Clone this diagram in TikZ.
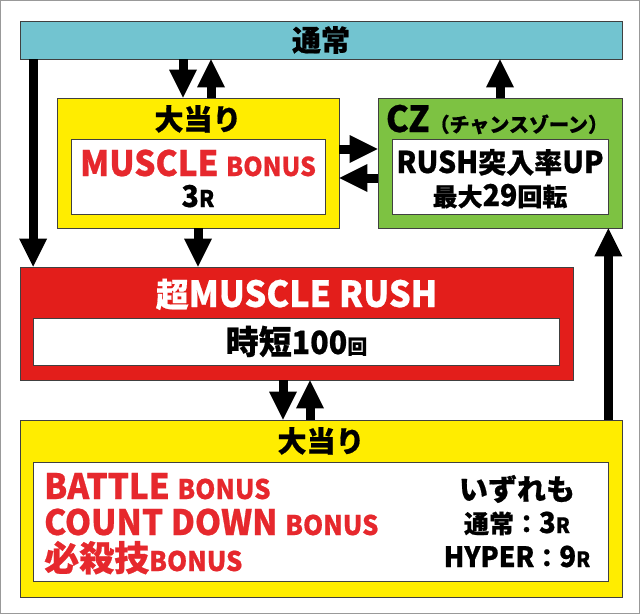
\documentclass[tikz,border=0pt]{standalone}
\usepackage{fontspec}
\setmainfont{Noto Sans CJK JP}
\newfontfamily\jp{Noto Sans CJK JP}[FakeBold=0.6]
\newfontfamily\lat{Noto Sans CJK JP}[FakeStretch=0.95, FakeBold=0.6]
\usetikzlibrary{arrows.meta}
\definecolor{tsujoblue}{RGB}{114,196,208}
\definecolor{hityellow}{RGB}{255,237,0}
\definecolor{czgreen}{RGB}{125,194,66}
\definecolor{rushred}{RGB}{227,30,27}
\definecolor{bonusred}{RGB}{230,40,45}
\newcommand\jpx[2]{{\jp\bfseries\fontsize{#1}{#1}\selectfont #2}}
\newcommand\ltx[2]{{\lat\bfseries\fontsize{#1}{#1}\selectfont #2}}

\begin{document}
\begin{tikzpicture}[x=1pt,y=-1pt,
  box/.style={draw=black!75, line width=.8pt, rectangle, inner sep=0pt},
  txt/.style={inner sep=0pt, anchor=base},
  arr/.style={line width=\t, -{Triangle[length=\l, width=\w, line width=0pt]}}]
\def\l{28pt}
\def\w{28pt}
\def\t{9pt}
\useasboundingbox (0,0) rectangle (640,614);
\draw [black!40, line width=1pt] (0.5,0.5) rectangle (639.5,613.5);

\node [box, fill=tsujoblue, minimum width=602pt, minimum height=38pt, name=tsujo] at (321,40) {};
\node [txt, name=tsujot] at (321,51) {\jpx{29}{通常}};

\node [box, fill=hityellow, minimum width=282pt, minimum height=130pt, name=hit1] at (198,163) {};
\node [txt, name=hit1t] at (198,130) {\jpx{29}{大当り}};
\node [box, fill=white, minimum width=254pt, minimum height=75pt, name=hit1w] at (198,176.5) {};
\node [txt, text=bonusred, name=mbonus] at (198,176) {\ltx{35}{MUSCLE\ }\ltx{26}{BONUS}};
\node [txt, name=mround] at (198,207) {\ltx{30}{3}\ltx{23}{R}};

\node [box, fill=czgreen, minimum width=244pt, minimum height=130pt, name=cz] at (500,163) {};
\node [txt, name=czt] at (497,132) {\ltx{36}{CZ}\jpx{20}{（チャンスゾーン）}};
\node [box, fill=white, minimum width=216pt, minimum height=75pt, name=czw] at (500,176.5) {};
\node [txt, name=czup] at (500,173) {\ltx{30}{RUSH}\jpx{28}{突入率}\ltx{30}{UP}};
\node [txt, name=czgame] at (500,206) {\jpx{25}{最大}\ltx{30}{29}\jpx{25}{回転}};

\node [box, fill=rushred, minimum width=553pt, minimum height=113pt, name=rush] at (296.5,323.5) {};
\node [txt, text=white, name=rusht] at (296.5,307) {\jpx{33}{超}\ltx{36}{MUSCLE RUSH}};
\node [box, fill=white, minimum width=526pt, minimum height=47pt, name=rushw] at (296.5,341.5) {};
\node [txt, name=jitan] at (296.5,354) {\jpx{33}{時短}\ltx{32}{100}\jpx{20}{回}};

\node [box, fill=hityellow, minimum width=602pt, minimum height=177pt, name=hit2] at (321,508.5) {};
\node [txt, name=hit2t] at (321,452) {\jpx{29}{大当り}};
\node [box, fill=white, minimum width=574.5pt, minimum height=119pt, name=hit2w] at (320.75,521.5) {};
\node [txt, anchor=base west, text=bonusred, name=b1] at (44,499) {\ltx{35}{BATTLE\ }\ltx{27}{BONUS}};
\node [txt, anchor=base west, text=bonusred, name=b2] at (44,535) {\ltx{35}{COUNT DOWN\ }\ltx{27}{BONUS}};
\node [txt, anchor=base west, text=bonusred, name=b3] at (44,571) {\jpx{35}{必殺技}\ltx{27}{BONUS}};
\node [txt, name=r1] at (517,500) {\jpx{29}{いずれも}};
\node [txt, name=r2] at (517,533) {\jpx{25}{通常：}\ltx{29}{3}\ltx{21}{R}};
\node [txt, name=r3] at (517,567) {\ltx{28}{HYPER}\jpx{25}{：}\ltx{29}{9}\ltx{21}{R}};

\coordinate (d0) at ([xshift=13.5pt]rush.north west);
\coordinate (d1) at ([xshift=-15pt]hit1.north);
\coordinate (u1) at ([xshift=13pt]hit1.north);
\coordinate (r1) at ([yshift=14pt]hit1.east);
\coordinate (l1) at ([yshift=-15pt]cz.west);
\coordinate (d2) at ([xshift=-13.5pt]rush.south);
\coordinate (u2) at ([xshift=13.5pt]rush.south);
\coordinate (u3) at ([xshift=-14pt]cz.south east);
\draw [arr] (d0 |- tsujo.south) -- (d0);
\draw [arr] (d1 |- tsujo.south) -- (d1);
\draw [arr] (u1) -- (u1 |- tsujo.south);
\draw [arr] (cz.north) -- (cz.north |- tsujo.south);
\draw [arr] (r1) -- (r1 -| cz.west);
\draw [arr] (l1) -- (l1 -| hit1.east);
\draw [arr] (hit1.south) -- (hit1.south |- rush.north);
\draw [arr] (d2) -- (d2 |- hit2.north);
\draw [arr] (u2 |- hit2.north) -- (u2);
\draw [arr] (u3 |- hit2.north) -- (u3);
\end{tikzpicture}
\end{document}
